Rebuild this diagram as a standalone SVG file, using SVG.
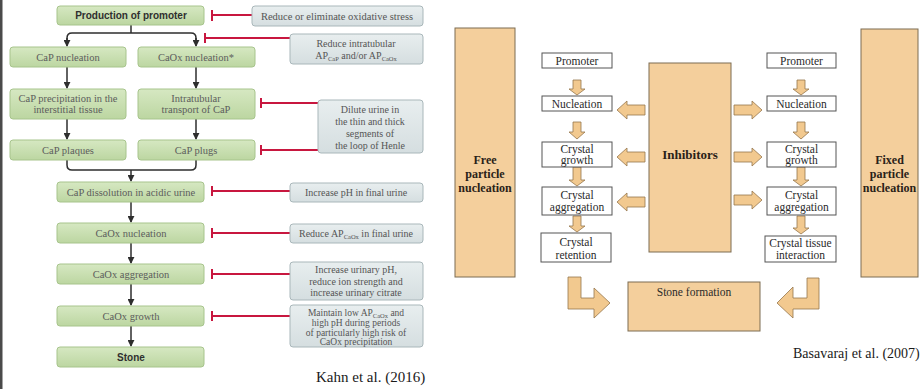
<svg xmlns="http://www.w3.org/2000/svg" width="921" height="389" viewBox="0 0 921 389">
  <defs>
    <linearGradient id="greenFill" x1="0" y1="0" x2="0" y2="1">
      <stop offset="0" stop-color="#d6e8c2"/>
      <stop offset="1" stop-color="#bcd6a1"/>
    </linearGradient>
    <linearGradient id="greyFill" x1="0" y1="0" x2="0" y2="1">
      <stop offset="0" stop-color="#e8eeef"/>
      <stop offset="1" stop-color="#d5dee0"/>
    </linearGradient>
    <marker id="arrowDown" viewBox="0 0 8 8" refX="7" refY="4" markerWidth="7" markerHeight="7" markerUnits="userSpaceOnUse" orient="auto">
      <path d="M0,0 L8,4 L0,8 Z" fill="#2e2e2e"/>
    </marker>
  </defs>
  <style>
    .gbox { fill: url(#greenFill); stroke: #a7c48c; stroke-width: 1; }
    .sbox { fill: url(#greyFill); stroke: #a9b7ba; stroke-width: 1; }
    .wbox { fill: #ffffff; stroke: #555555; stroke-width: 1; }
    .tbox { fill: #f4cf9c; stroke: #7d6c52; stroke-width: 1; }
    .blk { fill: #f2c98f; stroke: #95764c; stroke-width: 0.8; }
    .lt { font-family: "Liberation Serif", "DejaVu Serif", serif; font-size: 10.5px; fill: #5c5c5c; text-anchor: middle; }
    .bt { font-family: "Liberation Sans", Arial, sans-serif; font-size: 10px; font-weight: bold; fill: #2f2f2f; text-anchor: middle; }
    .st { font-family: "Liberation Serif", "DejaVu Serif", serif; font-size: 10px; fill: #555555; text-anchor: middle; }
    .rt { font-family: "Liberation Serif", "Times New Roman", serif; font-size: 11.5px; fill: #2a2a2a; text-anchor: middle; }
    .rb { font-family: "Liberation Serif", "Times New Roman", serif; font-size: 12px; font-weight: bold; fill: #2a2218; text-anchor: middle; }
    .cite { font-family: "Liberation Serif", "Times New Roman", serif; fill: #1a1a1a; }
    .sub { font-size: 6.5px; }
    .flow { fill: none; stroke: #2e2e2e; stroke-width: 1.5; }
    .inh { fill: none; stroke: #c8173f; stroke-width: 2; }
  </style>

  <rect x="0" y="0" width="921" height="389" fill="#ffffff"/>
  <rect x="0" y="0" width="2.5" height="389" fill="#4a4a4a"/>

  <!-- Pathway (left panel): connectors -->
  <g id="connectors">
    <!-- branch from promoter production -->
    <path class="flow" d="M131,25 V33"/>
    <path class="flow" d="M67,40 V38 Q67,33 72,33 H191 Q196,33 196,38 V40"/>
    <path class="flow" d="M67,38 V46" marker-end="url(#arrowDown)"/>
    <path class="flow" d="M196,38 V46" marker-end="url(#arrowDown)"/>
    <path class="flow" d="M67,67 V88" marker-end="url(#arrowDown)"/>
    <path class="flow" d="M196,67 V88" marker-end="url(#arrowDown)"/>
    <path class="flow" d="M67,119 V139" marker-end="url(#arrowDown)"/>
    <path class="flow" d="M196,119 V139" marker-end="url(#arrowDown)"/>
    <!-- merge into dissolution -->
    <path class="flow" d="M67,160 V165 Q67,170 72,170 H191 Q196,170 196,165 V160"/>
    <path class="flow" d="M131,170 V181" marker-end="url(#arrowDown)"/>
    <path class="flow" d="M131,202 V222" marker-end="url(#arrowDown)"/>
    <path class="flow" d="M131,243 V263" marker-end="url(#arrowDown)"/>
    <path class="flow" d="M131,284 V305" marker-end="url(#arrowDown)"/>
    <path class="flow" d="M131,326 V346" marker-end="url(#arrowDown)"/>

    <!-- inhibitory links -->
    <path class="inh" d="M212,15 H252 M212,10 V21"/>
    <path class="inh" d="M205,38 H290 M205,33 V43"/>
    <path class="inh" d="M261,103 H318 M261,98 V108"/>
    <path class="inh" d="M261,150 H318 M261,145 V155"/>
    <path class="inh" d="M212,191 H290 M212,186 V196"/>
    <path class="inh" d="M212,233 H290 M212,228 V238"/>
    <path class="inh" d="M212,274 H290 M212,269 V279"/>
    <path class="inh" d="M212,316 H290 M212,311 V321"/>

    <!-- Stage model (right panel): block arrows down the columns -->
    <path class="blk" d="M573,80 H581 V89 H585 L577,95 L569,89 H573 Z"/>
    <path class="blk" d="M573,122 H581 V132 H585 L577,139 L569,132 H573 Z"/>
    <path class="blk" d="M573,167 H581 V180 H585 L577,186 L569,180 H573 Z"/>
    <path class="blk" d="M573,216 H581 V226 H585 L577,232 L569,226 H573 Z"/>
    <path class="blk" d="M797,80 H805 V89 H809 L801,95 L793,89 H797 Z"/>
    <path class="blk" d="M797,122 H805 V132 H809 L801,139 L793,132 H797 Z"/>
    <path class="blk" d="M797,167 H805 V180 H809 L801,186 L793,180 H797 Z"/>
    <path class="blk" d="M797,216 H805 V228 H809 L801,234 L793,228 H797 Z"/>

    <!-- inhibitor arrows, pointing left -->
    <path class="blk" d="M645,105 V115 H627 V119 L617,110 L627,101 V105 Z"/>
    <path class="blk" d="M645,152 V162 H627 V166 L617,157 L627,148 V152 Z"/>
    <path class="blk" d="M645,197 V207 H627 V211 L617,202 L627,193 V197 Z"/>
    <!-- inhibitor arrows, pointing right -->
    <path class="blk" d="M734,105 V115 H752 V119 L762,110 L752,101 V105 Z"/>
    <path class="blk" d="M734,152 V162 H752 V166 L762,157 L752,148 V152 Z"/>
    <path class="blk" d="M734,195 V205 H752 V209 L762,200 L752,191 V195 Z"/>

    <!-- bent arrows into stone formation -->
    <path class="blk" d="M568,277 H581 V298 H594 V288 L610,303 L594,318 V309 H568 Z"/>
    <path class="blk" d="M819,278 H807 V298 H793 V287 L777,303 L793,318 V309 H819 Z"/>
  </g>

  <!-- Pathway nodes -->
  <g id="n-promoter">
    <rect class="gbox" x="57" y="6" width="147" height="19" rx="3"/>
    <text class="bt" x="131" y="19">Production of promoter</text>
  </g>
  <g id="n-cap-nucleation">
    <rect class="gbox" x="10" y="47" width="116" height="20" rx="3"/>
    <text class="lt" x="68" y="61">CaP nucleation</text>
  </g>
  <g id="n-caox-nucleation-1">
    <rect class="gbox" x="138" y="47" width="117" height="20" rx="3"/>
    <text class="lt" x="196" y="61">CaOx nucleation*</text>
  </g>
  <g id="n-cap-precipitation">
    <rect class="gbox" x="10" y="89" width="116" height="30" rx="3"/>
    <text class="lt" x="68" y="102">CaP precipitation in the</text>
    <text class="lt" x="68" y="113">interstitial tissue</text>
  </g>
  <g id="n-intratubular">
    <rect class="gbox" x="138" y="89" width="117" height="30" rx="3"/>
    <text class="lt" x="196" y="102">Intratubular</text>
    <text class="lt" x="196" y="113">transport of CaP</text>
  </g>
  <g id="n-cap-plaques">
    <rect class="gbox" x="10" y="140" width="116" height="20" rx="3"/>
    <text class="lt" x="68" y="154">CaP plaques</text>
  </g>
  <g id="n-cap-plugs">
    <rect class="gbox" x="138" y="140" width="117" height="20" rx="3"/>
    <text class="lt" x="196" y="154">CaP plugs</text>
  </g>
  <g id="n-dissolution">
    <rect class="gbox" x="57" y="182" width="147" height="20" rx="3"/>
    <text class="lt" x="131" y="196">CaP dissolution in acidic urine</text>
  </g>
  <g id="n-caox-nucleation-2">
    <rect class="gbox" x="57" y="223" width="147" height="20" rx="3"/>
    <text class="lt" x="131" y="237">CaOx nucleation</text>
  </g>
  <g id="n-caox-aggregation">
    <rect class="gbox" x="57" y="264" width="147" height="20" rx="3"/>
    <text class="lt" x="131" y="278">CaOx aggregation</text>
  </g>
  <g id="n-caox-growth">
    <rect class="gbox" x="57" y="306" width="147" height="20" rx="3"/>
    <text class="lt" x="131" y="320">CaOx growth</text>
  </g>
  <g id="n-stone">
    <rect class="gbox" x="57" y="347" width="147" height="20" rx="3"/>
    <text class="bt" x="131" y="361">Stone</text>
  </g>

  <!-- Interventions -->
  <g id="i-oxidative">
    <rect class="sbox" x="252" y="6" width="171" height="20" rx="3"/>
    <text class="st" x="337" y="19.5" style="font-size:10.5px">Reduce or eliminate oxidative stress</text>
  </g>
  <g id="i-intratubular">
    <rect class="sbox" x="290" y="34" width="133" height="30" rx="3"/>
    <text class="st" x="356" y="47">Reduce intratubular</text>
    <text class="st" x="356" y="59">AP<tspan class="sub" dy="2">CaP</tspan><tspan dy="-2"> and/or AP</tspan><tspan class="sub" dy="2">CaOx</tspan></text>
  </g>
  <g id="i-dilute">
    <rect class="sbox" x="318" y="100" width="105" height="53" rx="3"/>
    <text class="st" x="370" y="113">Dilute urine in</text>
    <text class="st" x="370" y="125">the thin and thick</text>
    <text class="st" x="370" y="137">segments of</text>
    <text class="st" x="370" y="149">the loop of Henle</text>
  </g>
  <g id="i-ph-final">
    <rect class="sbox" x="290" y="183" width="133" height="19" rx="3"/>
    <text class="st" x="356" y="196">Increase pH in final urine</text>
  </g>
  <g id="i-ap-final">
    <rect class="sbox" x="290" y="224" width="133" height="19" rx="3"/>
    <text class="st" x="356" y="237">Reduce AP<tspan class="sub" dy="2">CaOx</tspan><tspan dy="-2"> in final urine</tspan></text>
  </g>
  <g id="i-citrate">
    <rect class="sbox" x="290" y="262" width="133" height="38" rx="3"/>
    <text class="st" x="356" y="273">Increase urinary pH,</text>
    <text class="st" x="356" y="284.5">reduce ion strength and</text>
    <text class="st" x="356" y="296">increase urinary citrate</text>
  </g>
  <g id="i-maintain">
    <rect class="sbox" x="290" y="305" width="133" height="42" rx="3"/>
    <text class="st" x="356" y="316" style="font-size:9.5px">Maintain low AP<tspan class="sub" dy="2">CaOx</tspan><tspan dy="-2"> and</tspan></text>
    <text class="st" x="356" y="326" style="font-size:9.5px">high pH during periods</text>
    <text class="st" x="356" y="336" style="font-size:9.5px">of particularly high risk of</text>
    <text class="st" x="356" y="345" style="font-size:9.5px">CaOx precipitation</text>
  </g>
  <text class="cite" x="316" y="382" font-size="15">Kahn et al. (2016)</text>

  <!-- Stage model nodes -->
  <g id="s-free">
    <rect class="tbox" x="455" y="28" width="60" height="249"/>
    <text class="rb" x="485" y="164">Free</text>
    <text class="rb" x="485" y="178">particle</text>
    <text class="rb" x="485" y="192">nucleation</text>
  </g>
  <g id="s-fixed">
    <rect class="tbox" x="861" y="29" width="57" height="248"/>
    <text class="rb" x="889.5" y="164">Fixed</text>
    <text class="rb" x="889.5" y="178">particle</text>
    <text class="rb" x="889.5" y="192">nucleation</text>
  </g>
  <g id="s-inhibitors">
    <rect class="tbox" x="649" y="63" width="82" height="189"/>
    <text class="rb" x="690" y="159" style="font-size:13px">Inhibitors</text>
  </g>
  <g id="s-stone-formation">
    <rect class="tbox" x="628" y="282" width="132" height="49"/>
    <text class="rt" x="694" y="296">Stone formation</text>
  </g>

  <g id="s-left-promoter">
    <rect class="wbox" x="542" y="53" width="70" height="15"/>
    <text class="rt" x="577" y="65">Promoter</text>
  </g>
  <g id="s-left-nucleation">
    <rect class="wbox" x="542" y="96" width="70" height="15"/>
    <text class="rt" x="577" y="107.5">Nucleation</text>
  </g>
  <g id="s-left-growth">
    <rect class="wbox" x="542" y="142" width="70" height="25"/>
    <text class="rt" x="577" y="152.5">Crystal</text>
    <text class="rt" x="577" y="164">growth</text>
  </g>
  <g id="s-left-aggregation">
    <rect class="wbox" x="542" y="187" width="70" height="28"/>
    <text class="rt" x="577" y="199">Crystal</text>
    <text class="rt" x="577" y="211">aggregation</text>
  </g>
  <g id="s-left-retention">
    <rect class="wbox" x="541" y="233" width="70" height="29"/>
    <text class="rt" x="576" y="246">Crystal</text>
    <text class="rt" x="576" y="258.5">retention</text>
  </g>

  <g id="s-right-promoter">
    <rect class="wbox" x="767" y="53" width="69" height="15"/>
    <text class="rt" x="801.5" y="65">Promoter</text>
  </g>
  <g id="s-right-nucleation">
    <rect class="wbox" x="767" y="96" width="69" height="15"/>
    <text class="rt" x="801.5" y="107.5">Nucleation</text>
  </g>
  <g id="s-right-growth">
    <rect class="wbox" x="767" y="142" width="69" height="25"/>
    <text class="rt" x="801.5" y="152.5">Crystal</text>
    <text class="rt" x="801.5" y="164">growth</text>
  </g>
  <g id="s-right-aggregation">
    <rect class="wbox" x="767" y="187" width="69" height="28"/>
    <text class="rt" x="801.5" y="199">Crystal</text>
    <text class="rt" x="801.5" y="211">aggregation</text>
  </g>
  <g id="s-right-interaction">
    <rect class="wbox" x="765" y="236" width="71" height="26"/>
    <text class="rt" x="800.5" y="247">Crystal tissue</text>
    <text class="rt" x="800.5" y="259">interaction</text>
  </g>
  <text class="cite" x="793" y="358" font-size="14">Basavaraj et al. (2007)</text>
</svg>
